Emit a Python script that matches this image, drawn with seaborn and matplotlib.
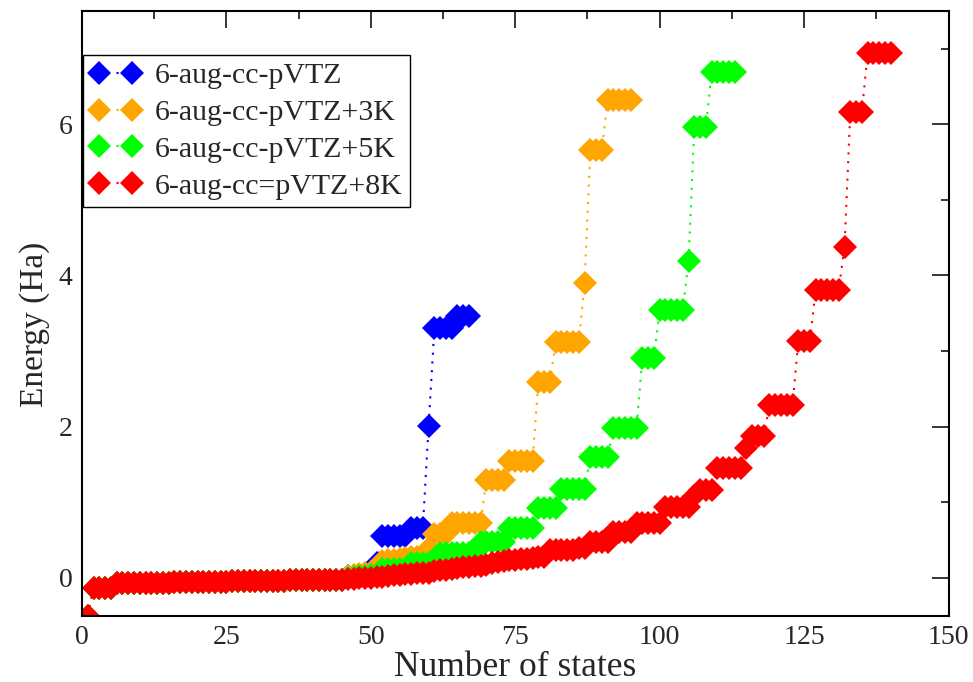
import numpy as np
import pandas as pd
import matplotlib
matplotlib.use("Agg")
import matplotlib.pyplot as plt
import seaborn as sns
from matplotlib.ticker import MultipleLocator

# ---------------- data ----------------
series_names = ["6-aug-cc-pVTZ", "6-aug-cc-pVTZ+3K", "6-aug-cc-pVTZ+5K", "6-aug-cc=pVTZ+8K"]
series_colors = ["#0000ff", "#ffa500", "#00ff00", "#ff0000"]

low_common = ([-0.50] + [-0.14] * 4 + [-0.065] * 10 + [-0.055] * 10 + [-0.045] * 10
              + [-0.03] * 10)   # states 1..45

blue_tail = ([0.03] * 5 + [0.20] + [0.556] * 5 + [0.66] * 3 + [2.01]
             + [3.30] * 4 + [3.46] * 3)                              # states 46..67
orange_tail = ([0.03, 0.04, 0.05, 0.06, 0.08, 0.12] + [0.22, 0.23, 0.24, 0.25, 0.26, 0.27, 0.28, 0.30]
               + [0.40] + [0.58] * 3 + [0.72] * 6 + [1.30] * 4 + [1.55] * 5
               + [2.59] * 3 + [3.12] * 5 + [3.90] + [5.66] * 3 + [6.32] * 5)   # 46..95
green_tail = ([0.0, 0.01, 0.02, 0.03, 0.04, 0.05] + [0.12] * 5 + [0.20] * 5 + [0.33] * 7
              + [0.48] * 5 + [0.66] * 5 + [0.92] * 4 + [1.17] * 5 + [1.60] * 4
              + [1.98] * 5 + [2.91] * 3 + [3.54] * 5 + [4.19] + [5.96] * 3 + [6.69] * 5)  # 46..113
red_tail = ([-0.01, -0.01, 0.0, 0.0, 0.0, 0.01, 0.01]
            + [0.03, 0.04, 0.04, 0.05, 0.05, 0.06, 0.07, 0.07]
            + [0.09, 0.10, 0.11, 0.12, 0.13, 0.14, 0.15, 0.16, 0.16, 0.17]
            + [0.20, 0.21, 0.22, 0.23, 0.24, 0.25, 0.25] + [0.26, 0.27, 0.28]
            + [0.37] * 5 + [0.40] * 2 + [0.48] * 4 + [0.61] * 4 + [0.73] * 5
            + [0.94] * 5 + [1.08] + [1.16] * 3 + [1.45] * 5 + [1.72] + [1.87] * 3
            + [2.28] * 5 + [3.13] * 3 + [3.81] * 5 + [4.38] + [6.16] * 3 + [6.94] * 5)  # 46..140

energies_blue = low_common + blue_tail
energies_orange = low_common + orange_tail
energies_green = low_common + green_tail
energies_red = low_common + red_tail
all_series = [energies_blue, energies_orange, energies_green, energies_red]

x_ticks = [0, 25, 50, 75, 100, 125, 150]
y_ticks = [0, 2, 4, 6]

# ---------------- build long table ----------------
frames = []
for name, vals in zip(series_names, all_series):
    frames.append(pd.DataFrame({"state": np.arange(1, len(vals) + 1),
                                "energy": vals, "basis": name}))
df = pd.concat(frames, ignore_index=True)

# ---------------- style ----------------
sns.set_style("white")
plt.rcParams["font.family"] = ["Liberation Serif", "DejaVu Serif"]
plt.rcParams["mathtext.fontset"] = "stix"

fig = plt.figure(figsize=(9.73, 6.82), dpi=100)
ax = fig.add_axes([82 / 973, 1 - 615.7 / 682, (948.5 - 82) / 973, (615.7 - 10.7) / 682])

sns.lineplot(data=df, x="state", y="energy", hue="basis", hue_order=series_names,
             palette=dict(zip(series_names, series_colors)), estimator=None,
             errorbar=None, sort=False, legend=False, ax=ax,
             marker="D", markersize=12, markeredgewidth=0,
             linestyle=(0, (1, 3.2)), linewidth=1.5)

ax.set_xlim(0, 150)
ax.set_ylim(-0.5, 7.5)
ax.xaxis.set_major_locator(MultipleLocator(25))
ax.xaxis.set_minor_locator(MultipleLocator(12.5))
ax.yaxis.set_major_locator(MultipleLocator(2))
ax.yaxis.set_minor_locator(MultipleLocator(1))
ax.set_xticks(x_ticks)
ax.set_yticks(y_ticks)
ax.set_xticklabels([str(t) for t in x_ticks])
ax.set_yticklabels([str(t) for t in y_ticks])
ax.tick_params(which="both", direction="in", top=True, right=True, color="black",
               labelsize=20, width=1.1)
ax.tick_params(which="major", length=12.5, pad=7)
ax.tick_params(which="minor", length=6)
for s in ax.spines.values():
    s.set_linewidth(1.5)
    s.set_color("black")

ax.set_xlabel("Number of states", fontsize=25.5, labelpad=0.3)
ax.set_ylabel("Energy (Ha)", fontsize=24, labelpad=6)
ax.yaxis.label.set_y(0.482)

handles = ax.get_lines()[:4]
leg = ax.legend(handles, series_names, loc="upper left", bbox_to_anchor=(0.001, 0.927),
                borderaxespad=0, numpoints=2, fontsize=21.5, handlelength=1.7,
                handletextpad=0.45, borderpad=0.25, labelspacing=0.33,
                frameon=True, fancybox=False, edgecolor="black", framealpha=1)
leg.get_frame().set_linewidth(1.0)

fig.savefig("out.png", dpi=100)
